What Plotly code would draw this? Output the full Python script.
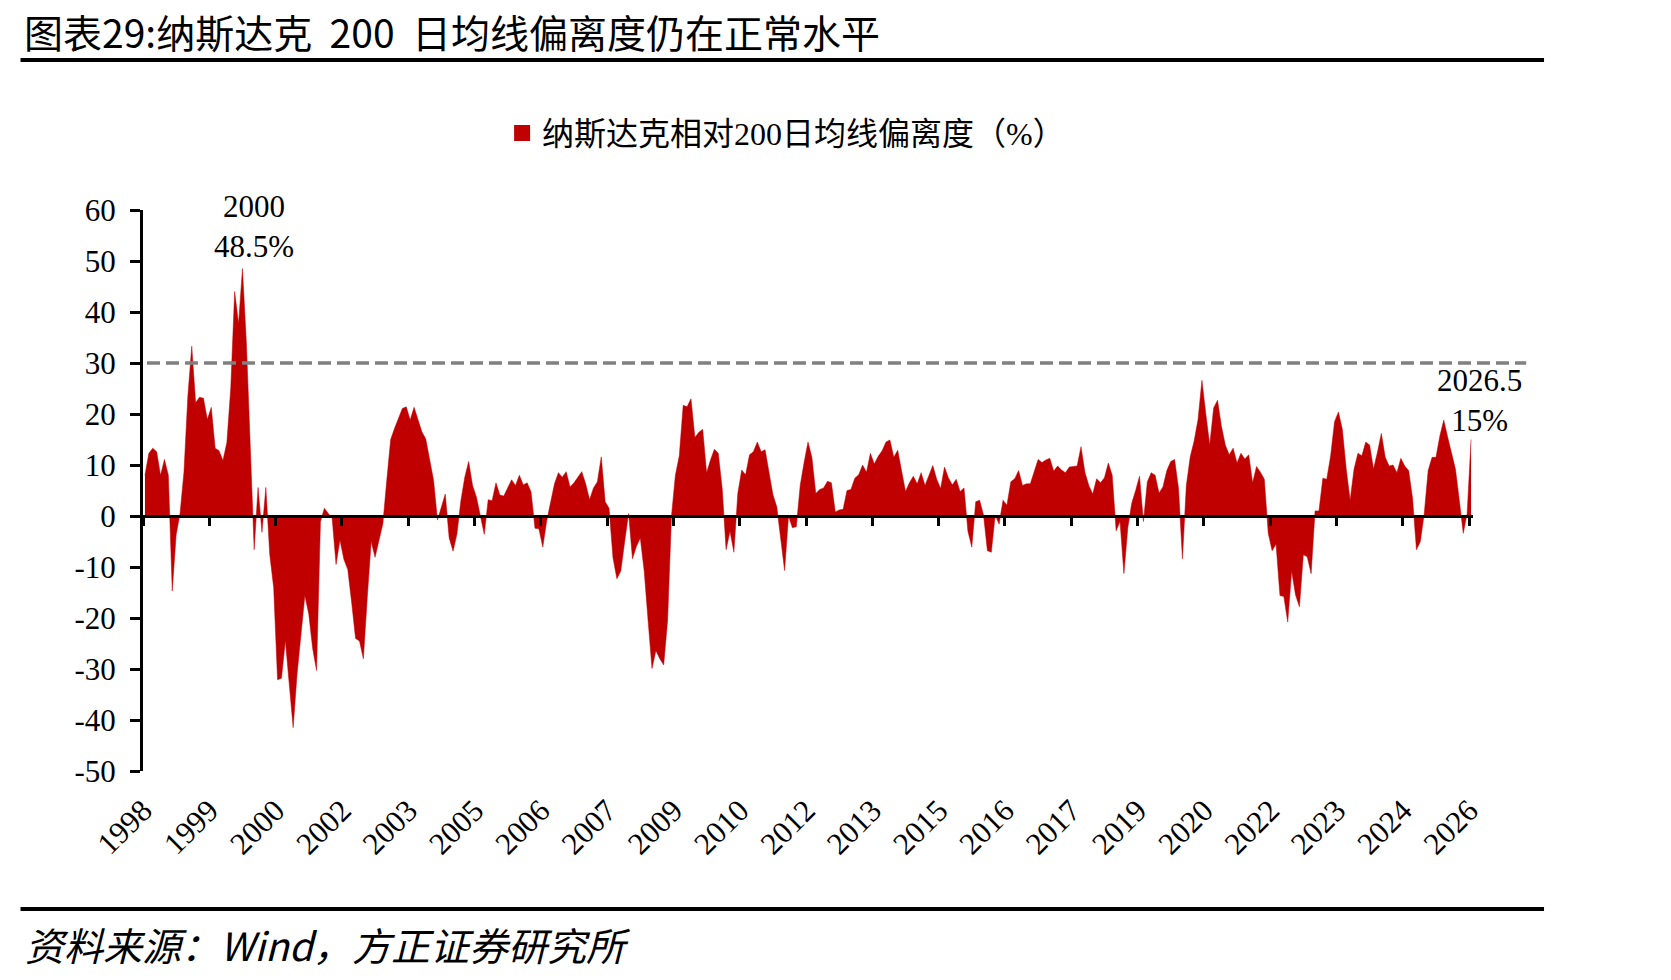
import plotly.graph_objects as go

# ---------------- data (monthly, Jan 1998 - May 2026) ----------------
START_YEAR = 1998
DEVIATION = [
    8.0, 12.3, 13.3, 12.6, 8.0, 11.1, 8.0, -14.7, -3.7, 0.5,
    8.6, 23.5, 33.3, 22.2, 23.3, 23.1, 18.9, 21.3, 13.3, 12.8,
    10.9, 14.4, 25.1, 44.0, 37.7, 48.5, 34.0, 14.0, -6.6, 5.6,
    -3.2, 5.6, -7.6, -14.0, -32.1, -31.8, -24.4, -33.0, -41.5, -31.0,
    -23.7, -15.6, -19.2, -26.0, -30.3, -1.1, 1.5, 0.5, -0.5, -9.5,
    -4.7, -8.5, -10.5, -17.0, -24.0, -24.5, -28.0, -16.0, -5.0, -8.1,
    -5.0, -1.5, 7.0, 15.0, 17.2, 19.0, 21.1, 21.4, 18.8, 21.3,
    19.0, 16.5, 15.1, 11.0, 7.0, -0.8, 2.0, 4.3, -4.3, -6.9,
    -3.5, 3.0, 7.6, 10.7, 6.0, 3.7, 0.0, -3.6, 3.2, 3.0,
    6.5, 4.1, 3.9, 5.5, 7.1, 6.0, 8.0, 6.1, 6.5, 4.7,
    -2.4, -2.5, -6.1, -1.0, 2.8, 6.3, 8.5, 7.6, 8.7, 5.7,
    6.5, 7.6, 8.7, 6.3, 3.2, 5.5, 6.7, 11.6, 2.8, 1.5,
    -8.2, -12.3, -10.8, -5.0, 0.5, -8.4, -6.0, -4.3, -10.8, -20.5,
    -29.9, -26.4, -28.0, -29.2, -20.5, 0.0, 8.0, 11.8, 21.7, 21.4,
    23.0, 15.4, 16.4, 17.0, 8.5, 11.0, 13.1, 12.3, 5.4, -6.6,
    -3.0, -7.1, 4.4, 9.0, 8.1, 12.0, 12.6, 14.5, 12.6, 13.0,
    8.6, 4.2, 1.8, -5.0, -10.7, 0.0, -2.3, -2.1, 6.0, 10.5,
    14.5, 11.5, 4.4, 5.2, 5.5, 6.8, 6.5, 0.8, 1.2, 1.3,
    5.0, 5.2, 7.4, 8.1, 10.0, 8.6, 12.3, 10.2, 11.7, 12.8,
    14.5, 14.9, 11.5, 12.9, 9.0, 4.8, 6.5, 7.8, 6.3, 8.5,
    6.0, 8.0, 9.9, 7.2, 5.4, 9.6, 7.5, 6.1, 7.2, 4.8,
    5.5, -3.0, -6.1, 2.8, 3.1, 0.2, -6.8, -7.1, 0.2, -1.6,
    3.1, 2.1, 6.7, 7.3, 8.9, 6.0, 6.3, 6.3, 8.9, 11.1,
    10.5, 11.0, 11.3, 8.8, 9.8, 9.0, 8.5, 9.6, 9.7, 9.8,
    13.6, 8.6, 6.0, 4.3, 7.3, 6.5, 7.5, 10.4, 8.0, -2.9,
    -1.1, -11.3, -2.3, 2.5, 5.0, 7.8, -1.1, 6.7, 8.5, 8.0,
    4.5, 5.7, 8.9, 10.7, 11.1, 5.4, -8.4, 6.0, 11.6, 14.7,
    18.9, 26.6, 20.0, 13.9, 21.2, 22.7, 17.6, 13.9, 12.0, 13.3,
    10.4, 12.3, 11.2, 12.0, 6.5, 9.7, 8.6, 7.2, -3.4, -6.8,
    -5.5, -15.6, -15.8, -20.8, -10.8, -15.5, -17.8, -7.6, -8.0, -11.3,
    1.0, 1.0, 7.4, 7.2, 11.8, 18.5, 20.4, 17.0, 9.2, 3.1,
    9.2, 12.3, 11.8, 14.5, 13.9, 9.2, 12.5, 16.2, 11.5, 9.8,
    10.0, 8.5, 11.3, 9.8, 8.9, 3.5, -6.6, -5.0, 0.5, 8.9,
    11.5, 11.5, 15.7, 18.8, 15.5, 12.3, 9.2, 3.0, -3.4, 0.5, 15.0,
]
MONTHS = [f"{START_YEAR + k // 12}-{k % 12 + 1:02d}" for k in range(len(DEVIATION))]
TICK_STEP = 17  # months between axis ticks
TICK_LABELS = ["1998", "1999", "2000", "2002", "2003", "2005", "2006", "2007",
               "2009", "2010", "2012", "2013", "2015", "2016", "2017", "2019",
               "2020", "2022", "2023", "2024", "2026"]
Y_TICKS = [60, 50, 40, 30, 20, 10, 0, -10, -20, -30, -40, -50]
Y_TICK_LABELS = ["60", "50", "40", "30", "20", "10", "0",
                 "-10", "-20", "-30", "-40", "-50"]
THRESHOLD = 30
SERIES_NAME = "纳斯达克相对200日均线偏离度（%）"
PEAK_LABEL = ("2000", "48.5%")
LAST_LABEL = ("2026.5", "15%")
TITLE = "图表29:纳斯达克\u00a0\u00a0200\u00a0\u00a0日均线偏离度仍在正常水平"
SOURCE = "资料来源：Wind，方正证券研究所"

# ---------------- figure ----------------
RED = "#C00000"
SERIF = "Liberation Serif, Noto Sans CJK SC"
CJK = "Noto Sans CJK SC"

x_idx = list(range(len(DEVIATION)))
tickvals = [k * TICK_STEP - 0.5 for k in range(len(TICK_LABELS))]
xrange_ = [-0.5, len(DEVIATION) - 0.5]

fig = go.Figure()
fig.add_trace(go.Scatter(
    x=x_idx, y=DEVIATION, customdata=MONTHS, mode="lines", fill="tozeroy",
    fillcolor=RED, line=dict(color=RED, width=0.5), showlegend=False,
    hovertemplate="%{customdata}: %{y:.1f}%<extra></extra>"))
# legend entry
fig.add_trace(go.Scatter(
    x=[None], y=[None], mode="markers", name=SERIES_NAME,
    marker=dict(symbol="square", size=19, color=RED)))
# helper trace for the zero-crossing axis (ticks on the 0 line)
fig.add_trace(go.Scatter(
    x=xrange_, y=[0, 0], xaxis="x2", mode="lines", opacity=0,
    showlegend=False, hoverinfo="skip"))

ymin, ymax = -50, 60
zero_pos = (0 - ymin) / (ymax - ymin)

fig.update_layout(
    width=1671, height=980,
    margin=dict(l=143, r=198, t=210, b=209),
    paper_bgcolor="white", plot_bgcolor="white",
    showlegend=True,
    legend=dict(x=0.270, y=1.137, xanchor="left", yanchor="middle",
                orientation="h", font=dict(family=SERIF, size=32, color="black"),
                bgcolor="rgba(0,0,0,0)"),
    xaxis=dict(range=xrange_, tickmode="array", tickvals=tickvals,
               ticktext=TICK_LABELS, tickangle=-45, ticks="", showline=False,
               showgrid=False, zeroline=False, ticklabelstandoff=14,
               tickfont=dict(family=SERIF, size=31, color="black")),
    xaxis2=dict(range=xrange_, overlaying="x", anchor="free", position=zero_pos,
                tickmode="array", tickvals=tickvals, ticks="outside", ticklen=8,
                tickwidth=3, tickcolor="black", showticklabels=False,
                showline=True, linewidth=3, linecolor="black",
                showgrid=False, zeroline=False),
    yaxis=dict(range=[ymin, ymax], tickmode="array", tickvals=Y_TICKS,
               ticktext=Y_TICK_LABELS, ticks="outside", ticklen=10,
               tickwidth=3, tickcolor="black", showline=True, linewidth=3,
               linecolor="black", showgrid=False, zeroline=False,
               ticklabelstandoff=8,
               tickfont=dict(family=SERIF, size=31, color="black")),
)

# threshold dashed line (extends slightly past the plot area as in the original)
fig.add_shape(type="line", xref="paper", yref="y", x0=0.003, x1=1.040,
              y0=THRESHOLD, y1=THRESHOLD, layer="above",
              line=dict(color="#808080", width=3.5, dash="13px,6px"))

# header / footer rules
for yy in (1.2674, -0.246):
    fig.add_shape(type="line", xref="paper", yref="paper", x0=-0.0921, x1=1.0534,
                  y0=yy, y1=yy, line=dict(color="black", width=4))

fig.add_annotation(xref="paper", yref="paper", x=-0.0906, y=1.3195,
                   xanchor="left", yanchor="middle", showarrow=False,
                   text=TITLE, borderpad=0,
                   font=dict(family=CJK, size=39, color="black"))
fig.add_annotation(xref="paper", yref="paper", x=-0.0906, y=-0.3084,
                   xanchor="left", yanchor="middle", showarrow=False,
                   text=f"<i>{SOURCE}</i>",
                   font=dict(family=CJK, size=39, color="black"))

peak_i = DEVIATION.index(max(DEVIATION))
fig.add_annotation(x=peak_i, y=56.8, xshift=12, showarrow=False,
                   xanchor="center", yanchor="middle",
                   text="<br>".join(PEAK_LABEL),
                   font=dict(family=SERIF, size=31, color="black"))
fig.add_annotation(x=len(DEVIATION) - 1, y=22.6, xshift=8, showarrow=False,
                   xanchor="center", yanchor="middle",
                   text="<br>".join(LAST_LABEL),
                   font=dict(family=SERIF, size=31, color="black"))

fig.write_html("out.html")
